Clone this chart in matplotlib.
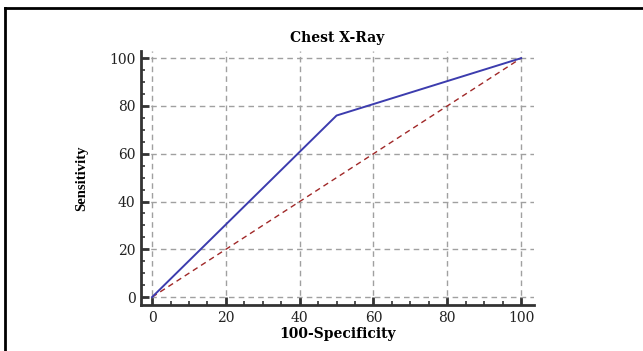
import matplotlib
matplotlib.use("Agg")
import matplotlib.pyplot as plt
from matplotlib.lines import Line2D
from matplotlib.ticker import MultipleLocator

# ROC points
fpr = [0, 50, 100]
sens = [0, 76, 100]
ref_x = [0, 100]
ref_y = [0, 100]

title = "Chest X-Ray"
xlabel = "100-Specificity"
ylabel = "Sensitivity"

fig = plt.figure(figsize=(6.43, 3.51), dpi=100)
ax = fig.add_axes([141 / 643, 46 / 351, 393 / 643, 254 / 351])

ax.plot(ref_x, ref_y, color="#a02828", lw=1.0, ls=(0, (4, 3)))
ax.plot(fpr, sens, color="#3c3cae", lw=1.4)

ax.set_xlim(-3, 103.5)
ax.set_ylim(-3.3, 103)
ax.xaxis.set_major_locator(MultipleLocator(20))
ax.yaxis.set_major_locator(MultipleLocator(20))
ax.xaxis.set_minor_locator(MultipleLocator(5))
ax.yaxis.set_minor_locator(MultipleLocator(5))
ax.grid(True, which="major", color="#a0a0a0", ls=(0, (4, 3)), lw=1.0)

for s in ["top", "right"]:
    ax.spines[s].set_visible(False)
for s in ["left", "bottom"]:
    ax.spines[s].set_linewidth(2)
    ax.spines[s].set_color("#333333")

ax.tick_params(which="major", direction="in", length=6, width=2, color="#333333",
               labelsize=10, pad=4)
ax.tick_params(which="minor", direction="in", length=3, width=1.2, color="#333333")
for lab in ax.get_xticklabels() + ax.get_yticklabels():
    lab.set_family("DejaVu Serif")
    lab.set_color("#222222")

ax.set_title(title, fontsize=10, fontweight="bold", family="DejaVu Serif", pad=6.5)
ax.set_xlabel(xlabel, fontsize=10, fontweight="bold", family="DejaVu Serif", labelpad=2)
ax.set_ylabel(ylabel, fontsize=10.5, fontweight="bold", family="Liberation Serif", labelpad=15)

# frame around the picture (top and left edges)
fig.add_artist(Line2D([4.5 / 643, 4.5 / 643], [0, 1 - 7.5 / 351], color="black", lw=2,
                      transform=fig.transFigure))
fig.add_artist(Line2D([4.5 / 643, 1], [1 - 7.5 / 351, 1 - 7.5 / 351], color="black", lw=2,
                      transform=fig.transFigure))

fig.savefig("out.png", dpi=100)
